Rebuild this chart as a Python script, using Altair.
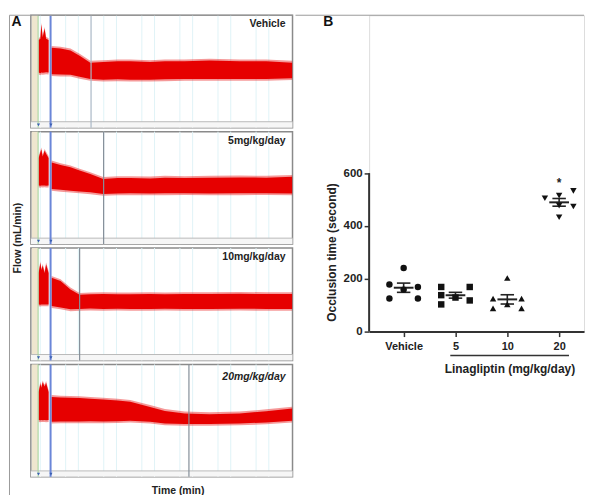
import altair as alt
import numpy as np
import pandas as pd

FONT = "Liberation Sans"

# ---------------- Panel A : flow traces ----------------
trace_names = ["Vehicle", "5mg/kg/day", "10mg/kg/day", "20mg/kg/day"]

# baseline (pre-injection) segment: time and envelope (upper / lower flow)
pre_t = [-3.76, -3.3, -3.05, -2.7, -2.2, -1.8, -1.15]
pre_hi = [
    [6.0, 6.1, 7.1, 6.2, 6.8, 6.1, 6.0],
    [5.9, 6.3, 6.5, 6.0, 6.4, 6.2, 5.9],
    [6.0, 6.7, 6.2, 6.5, 6.0, 6.6, 6.0],
    [5.8, 6.4, 6.1, 6.5, 6.2, 6.45, 5.8],
]
pre_lo = [
    [3.70, 3.65, 3.70, 3.68, 3.70, 3.72, 3.70],
    [3.95, 3.92, 3.95, 3.94, 3.95, 3.93, 3.94],
    [3.77, 3.75, 3.77, 3.76, 3.77, 3.76, 3.77],
    [3.82, 3.80, 3.82, 3.81, 3.82, 3.80, 3.82],
]

# post-injection segment
post_t = [-0.37, 2.0, 4.6, 7.0, 9.8, 13.2, 17.0, 20.3, 25.5, 29.4, 34.6, 41.1, 49.0, 56.0, 62.8]
post_hi = [
    [5.46, 5.40, 5.27, 4.90, 4.40, 4.45, 4.50, 4.50, 4.45, 4.50, 4.50, 4.55, 4.50, 4.50, 4.40],
    [5.58, 5.40, 5.23, 5.00, 4.76, 4.41, 4.48, 4.48, 4.45, 4.50, 4.48, 4.50, 4.52, 4.50, 4.56],
    [5.65, 5.42, 4.83, 4.45, 4.48, 4.50, 4.48, 4.48, 4.50, 4.48, 4.50, 4.50, 4.52, 4.50, 4.50],
    [5.46, 5.42, 5.40, 5.38, 5.33, 5.27, 5.20, 5.11, 4.75, 4.47, 4.29, 4.24, 4.29, 4.45, 4.64],
]
post_lo = [
    [3.58, 3.56, 3.55, 3.40, 3.25, 3.20, 3.22, 3.20, 3.20, 3.22, 3.25, 3.25, 3.25, 3.25, 3.30],
    [3.70, 3.64, 3.58, 3.52, 3.46, 3.35, 3.38, 3.39, 3.38, 3.39, 3.40, 3.38, 3.39, 3.40, 3.38],
    [3.65, 3.55, 3.42, 3.45, 3.47, 3.45, 3.46, 3.45, 3.45, 3.46, 3.45, 3.45, 3.46, 3.45, 3.45],
    [3.70, 3.72, 3.72, 3.72, 3.73, 3.72, 3.74, 3.77, 3.70, 3.58, 3.54, 3.54, 3.58, 3.65, 3.77],
]

occlusion_t = [10.0, 13.3, 7.0, 35.7]
occlusion_color = ["#aab8c6", "#858f99", "#858f99", "#858f99"]
injection_t = -0.63
start_t = -3.9

major_t = [0, 10, 20, 30, 40, 50, 60]
minor_t = [-3.33, 3.33, 6.67, 13.33, 16.67, 23.33, 26.67, 33.33, 36.67,
           43.33, 46.67, 53.33, 56.67]
flow_grid = [1, 2, 3, 4, 5, 6, 7]

T_MIN, T_MAX = -5.8, 62.9
F_MIN, F_MAX = -0.2, 7.76
PW, PH, PGAP = 263, 113, 4
LEFT_MARGIN = 22

xsA = alt.Scale(domain=[T_MIN, T_MAX], nice=False, zero=False)
ysA = alt.Scale(domain=[F_MIN, F_MAX], nice=False, zero=False)
xaxA = alt.Axis(values=major_t, grid=True, gridColor="#bfe4ee", gridWidth=1,
                labels=False, ticks=False, domain=False, title=None)
yaxA = alt.Axis(values=flow_grid, grid=True, gridColor="#d6eef3", gridWidth=1,
                labels=False, ticks=False, domain=False, title=None)


def XA(f):
    return alt.X(f, type="quantitative", scale=xsA, axis=xaxA)


def YA(f):
    return alt.Y(f, type="quantitative", scale=ysA, axis=yaxA)


def make_panel(i):
    name = trace_names[i]
    rows = []
    for t, hi, lo in zip(pre_t, pre_hi[i], pre_lo[i]):
        rows.append(dict(kind="band", seg="pre", t=t, hi=hi, lo=lo))
    for t, hi, lo in zip(post_t, post_hi[i], post_lo[i]):
        rows.append(dict(kind="band", seg="post", t=t, hi=hi, lo=lo))
    rows.append(dict(kind="occl", t=occlusion_t[i]))
    rows.append(dict(kind="deco", label=name))
    for t in minor_t:
        rows.append(dict(kind="minor", t=t))
    df = pd.DataFrame(rows)

    last = i == len(trace_names) - 1

    base = alt.Chart(df)
    deco = base.transform_filter("datum.kind == 'deco'")
    bands = base.transform_filter("datum.kind == 'band'")

    minor = base.transform_filter("datum.kind == 'minor'").mark_rule(
        color="#e0f3f7", strokeWidth=1).encode(x=XA("t"))
    beige = deco.mark_rect(color="#efe6cf").encode(
        x=alt.XDatum(-5.55, type="quantitative", axis=None),
        x2=alt.X2Datum(start_t),
        y=alt.YDatum(0.22, type="quantitative", axis=None),
        y2=alt.Y2Datum(F_MAX))
    strip = deco.mark_rect(color="#f6f6f6").encode(
        x=alt.XDatum(T_MIN, type="quantitative", axis=None),
        x2=alt.X2Datum(T_MAX),
        y=alt.YDatum(F_MIN, type="quantitative", axis=None),
        y2=alt.Y2Datum(0.22))
    strip_line = deco.mark_rule(color="#b9b9b9", strokeWidth=1).encode(
        y=alt.YDatum(0.22, type="quantitative", axis=None))
    fringe = bands.transform_calculate(fh="datum.hi + 0.13", fl="datum.lo - 0.13").mark_area(
        color="#e60000", opacity=0.4).encode(x=XA("t"), y=YA("fh"), y2="fl:Q", detail="seg:N")
    band = bands.mark_area(color="#e60000", opacity=1).encode(
        x=XA("t"), y=YA("hi"), y2="lo:Q", detail="seg:N")
    green = deco.mark_rule(color="#9fd39a", strokeWidth=1).encode(
        x=alt.XDatum(start_t, type="quantitative", axis=None))
    blue = deco.mark_rule(color="#6a86d8", strokeWidth=2).encode(
        x=alt.XDatum(injection_t, type="quantitative", axis=None))
    occl = base.transform_filter("datum.kind == 'occl'").mark_rule(
        color=occlusion_color[i], strokeWidth=1.2).encode(x=XA("t"))
    tri1 = deco.mark_point(shape="triangle-down", filled=True, color="#3a5fb0",
                           size=10, opacity=1).encode(
        x=alt.XDatum(start_t + 0.1, type="quantitative", axis=None),
        y=alt.YDatum(0.0, type="quantitative", axis=None))
    tri2 = deco.mark_point(shape="triangle-down", filled=True, color="#3a5fb0",
                           size=10, opacity=1).encode(
        x=alt.XDatum(injection_t + 0.1, type="quantitative", axis=None),
        y=alt.YDatum(0.0, type="quantitative", axis=None))
    label = deco.mark_text(
        align="right", baseline="middle", font=FONT, fontSize=10.5, fontWeight="bold",
        fontStyle="italic" if last else "normal", color="#222").encode(
        x=alt.value(PW - 7), y=alt.value(12.5 if last else 9), text="label:N")

    layers = [minor, beige, strip, strip_line, fringe, band, green, blue, occl,
              tri1, tri2, label]

    if i == 0:
        # figure letter, outer figure border (left and top)
        letterA = deco.mark_text(text="A", align="center", baseline="middle", font=FONT,
                                 fontSize=14, fontWeight="bold", color="#111").encode(
            x=alt.value(7.5 - LEFT_MARGIN), y=alt.value(7))
        left_line = deco.mark_rule(color="#9a9a9a", strokeWidth=1).encode(
            x=alt.value(-LEFT_MARGIN + 0.5), y=alt.value(0),
            y2=alt.value(4 * PH + 3 * PGAP + 22))
        top_line = deco.mark_rule(color="#9a9a9a", strokeWidth=1).encode(
            x=alt.value(-LEFT_MARGIN + 0.5), x2=alt.value(PW), y=alt.value(0))
        layers += [left_line, top_line, letterA]
    if i == 1:
        flow_title = deco.mark_text(text="Flow (mL/min)", align="center", baseline="middle",
                                    angle=270, font=FONT, fontSize=10.5, fontWeight="bold",
                                    color="#222").encode(
            x=alt.value(9.5 - LEFT_MARGIN), y=alt.value(PH + PGAP / 2 - 8))
        layers += [flow_title]
    if last:
        time_title = deco.mark_text(text="Time (min)", align="center", baseline="middle",
                                    font=FONT, fontSize=10.5, fontWeight="bold",
                                    color="#222").encode(
            x=alt.value(148), y=alt.value(PH + 14))
        layers += [time_title]

    return alt.layer(*layers).properties(
        width=PW, height=PH,
        view=alt.ViewBackground(stroke="#8a8a8a", strokeWidth=1.5))


panels = alt.vconcat(*[make_panel(i) for i in range(len(trace_names))],
                     spacing=PGAP, bounds="flush")

# ---------------- Panel B : occlusion time ----------------
groups = ["Vehicle", "5", "10", "20"]
shapes = ["circle", "square", "triangle-up", "triangle-down"]
values_vehicle = [241, 178, 159, 169, 125, 125]
values_5 = [169, 169, 138, 129, 103, 118]
values_10 = [203, 125, 125, 103, 88, 88]
values_20 = [505, 515, 533, 477, 474, 433]
column_vehicle = [0, -1, 0, 1, -1, 1]
column_5 = [-1, 1, -1, 0, -1, 1]
column_10 = [0, -1, 1, 0, -1, 1]
column_20 = [-1, 0, 1, 0, 1, 0]
y_ticks = [0, 200, 400, 600]
significant = ["20"]

all_vals = [values_vehicle, values_5, values_10, values_20]
all_cols = [column_vehicle, column_5, column_10, column_20]

pts = []
stats = []
for gi, (g, vals, cols) in enumerate(zip(groups, all_vals, all_cols)):
    for v, c in zip(vals, cols):
        pts.append(dict(group=g, idx=gi + 1, col=c, value=v))
    arr = np.array(vals, dtype=float)
    m = arr.mean()
    s = arr.std(ddof=1) / np.sqrt(len(arr))
    stats.append(dict(group=g, idx=gi + 1, mean=m, lo=m - s, hi=m + s,
                      vmax=arr.max(), sig="*" if g in significant else ""))
dfP = pd.DataFrame(pts)
dfS = pd.DataFrame(stats)

WB, HB = 216, 318
GAP_AB = 74
STEP = 52.1
X0 = 0.334
xsB = alt.Scale(domain=[X0, X0 + WB / STEP], nice=False, zero=False)
ysB = alt.Scale(domain=[0, 1198], nice=False, zero=False)
label_expr = "[" + ",".join(f"'{g}'" for g in groups) + "][datum.value - 1]"
xaxB = alt.Axis(values=[1, 2, 3, 4], labelExpr=label_expr, grid=False,
                domain=True, domainColor="#333", domainWidth=2,
                ticks=True, tickSize=5, tickColor="#333", tickWidth=1.5,
                labelFont=FONT, labelFontSize=11, labelFontWeight="bold",
                labelColor="#222", labelPadding=4,
                title="Linagliptin (mg/kg/day)", titleFont=FONT, titleFontSize=12,
                titleFontWeight="bold", titleColor="#222",
                titleX=141, titleY=37, titleBaseline="middle")
yaxB = alt.Axis(values=y_ticks, grid=False, domain=False,
                ticks=True, tickSize=5, tickColor="#333", tickWidth=1.5,
                labelFont=FONT, labelFontSize=11.5, labelFontWeight="bold",
                labelColor="#222", labelPadding=2,
                title="Occlusion time (second)", titleFont=FONT, titleFontSize=12,
                titleFontWeight="bold", titleColor="#222",
                titleX=-38, titleY=238, titleBaseline="middle", titleAlign="center")

points = alt.Chart(dfP).transform_calculate(xpos="datum.idx + datum.col * 0.275").mark_point(
    filled=True, opacity=1, color="#111", size=42).encode(
    x=alt.X("xpos:Q", scale=xsB, axis=xaxB),
    y=alt.Y("value:Q", scale=ysB, axis=yaxB),
    shape=alt.Shape("group:N", scale=alt.Scale(domain=groups, range=shapes), legend=None))

sb = alt.Chart(dfS)
mean_rule = sb.transform_calculate(xa="datum.idx - 0.19", xb="datum.idx + 0.19").mark_rule(
    color="#222", strokeWidth=2).encode(
    x=alt.X("xa:Q", scale=xsB, axis=xaxB), x2="xb:Q",
    y=alt.Y("mean:Q", scale=ysB, axis=yaxB))
sem_rule = sb.mark_rule(color="#222", strokeWidth=1.6).encode(
    x=alt.X("idx:Q", scale=xsB, axis=xaxB),
    y=alt.Y("lo:Q", scale=ysB, axis=yaxB), y2="hi:Q")
cap_lo = sb.transform_calculate(xa="datum.idx - 0.13", xb="datum.idx + 0.13").mark_rule(
    color="#222", strokeWidth=1.6).encode(
    x=alt.X("xa:Q", scale=xsB, axis=xaxB), x2="xb:Q",
    y=alt.Y("lo:Q", scale=ysB, axis=yaxB))
cap_hi = sb.transform_calculate(xa="datum.idx - 0.13", xb="datum.idx + 0.13").mark_rule(
    color="#222", strokeWidth=1.6).encode(
    x=alt.X("xa:Q", scale=xsB, axis=xaxB), x2="xb:Q",
    y=alt.Y("hi:Q", scale=ysB, axis=yaxB))
star = sb.transform_filter("datum.sig != ''").mark_text(
    font=FONT, fontSize=12, fontWeight="bold", color="#222", baseline="middle", dy=-8).encode(
    x=alt.X("idx:Q", scale=xsB, axis=xaxB),
    y=alt.Y("vmax:Q", scale=ysB, axis=yaxB), text="sig:N")

yline_df = pd.DataFrame({"y0": [min(y_ticks)], "y1": [max(y_ticks)]})
yline = alt.Chart(yline_df).mark_rule(color="#333", strokeWidth=2).encode(
    x=alt.value(0), y=alt.Y("y0:Q", scale=ysB, axis=yaxB), y2="y1:Q")

bracket_df = pd.DataFrame({"x0": [2 - 0.1], "x1": [4 + 0.19]})
bracket = alt.Chart(bracket_df).mark_rule(color="#333", strokeWidth=1.5).encode(
    x=alt.X("x0:Q", scale=xsB, axis=xaxB), x2="x1:Q", y=alt.value(HB + 24))

deco_b = alt.Chart(pd.DataFrame({"t": ["B"]}))
letterB = deco_b.mark_text(
    align="center", baseline="middle", font=FONT, fontSize=14, fontWeight="bold",
    color="#111").encode(x=alt.value(-41), y=alt.value(7), text="t:N")
top_line_b = deco_b.mark_rule(color="#9a9a9a", strokeWidth=1).encode(
    x=alt.value(-GAP_AB), x2=alt.value(WB), y=alt.value(0))

right = alt.layer(top_line_b, yline, sem_rule, cap_lo, cap_hi, mean_rule, points, star,
                  bracket, letterB).properties(width=WB, height=HB)

chart = alt.hconcat(panels, right, spacing=0).properties(
    padding={"left": 0, "top": 4, "right": 0, "bottom": 0}
).configure_view(strokeWidth=0).configure(font=FONT)

chart.save("out.html", embed_options={"renderer": "svg", "actions": False})
